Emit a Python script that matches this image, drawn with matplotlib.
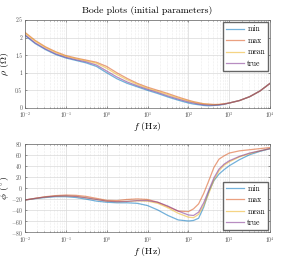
import numpy as np
import matplotlib
matplotlib.use("Agg")
import matplotlib.pyplot as plt

plt.rcParams['font.family'] = 'serif'
plt.rcParams['font.serif'] = ['cmr10', 'DejaVu Serif']
plt.rcParams['mathtext.fontset'] = 'cm'
plt.rcParams['axes.formatter.use_mathtext'] = True

# log10 of frequency (Hz)
log_f = [-2, -1.75, -1.5, -1.25, -1, -0.75, -0.5, -0.25, 0, 0.25, 0.5, 0.75, 1,
         1.25, 1.5, 1.75, 2, 2.125, 2.25, 2.375, 2.5, 2.625, 2.75, 2.875, 3,
         3.25, 3.5, 3.75, 4]

# resistivity magnitude (Ohm)
rho_min = [2.06, 1.83, 1.66, 1.52, 1.42, 1.35, 1.28, 1.18, 1.00, 0.83, 0.70, 0.60, 0.50,
           0.41, 0.31, 0.22, 0.14, 0.11, 0.09, 0.07, 0.06, 0.07, 0.08, 0.10, 0.14,
           0.21, 0.32, 0.48, 0.70]
rho_max = [2.15, 1.92, 1.74, 1.60, 1.49, 1.42, 1.36, 1.30, 1.18, 1.00, 0.84, 0.70, 0.59,
           0.50, 0.41, 0.31, 0.22, 0.18, 0.15, 0.12, 0.11, 0.10, 0.10, 0.12, 0.14,
           0.21, 0.32, 0.48, 0.70]
rho_mean = [2.13, 1.90, 1.72, 1.58, 1.47, 1.40, 1.34, 1.27, 1.13, 0.95, 0.80, 0.67, 0.56,
            0.47, 0.38, 0.28, 0.20, 0.16, 0.13, 0.11, 0.10, 0.09, 0.10, 0.11, 0.14,
            0.21, 0.32, 0.48, 0.70]
rho_true = [2.08, 1.85, 1.68, 1.54, 1.44, 1.37, 1.31, 1.22, 1.05, 0.88, 0.74, 0.63, 0.53,
            0.44, 0.34, 0.25, 0.17, 0.14, 0.11, 0.09, 0.08, 0.08, 0.09, 0.11, 0.14,
            0.21, 0.32, 0.48, 0.70]

# phase (degrees)
phi_min = [-22, -19.5, -17.5, -16, -16, -17.5, -20.5, -24, -26, -27, -27, -28, -32,
           -40, -50, -58, -60, -59, -55, -35, -7, 13, 25, 33, 40,
           51, 60, 66, 71]
phi_max = [-22, -19, -16, -14, -13, -13.5, -15.5, -19, -22.5, -23, -21, -20, -21,
           -26, -34, -42, -43, -38, -29, -10, 13, 37, 52, 58, 63,
           67, 69, 71, 73]
phi_mean = [-22, -19, -16.5, -15, -14.5, -15.5, -18, -21, -24, -25, -24.5, -23.5, -24,
            -28, -36, -46, -53, -54, -48, -32, -10, 14, 31, 41, 47,
            56, 62, 67, 71]
phi_true = [-22, -19, -16.5, -15, -14.5, -15.5, -18, -21, -24, -25, -24.5, -23, -23,
            -26, -33, -42, -49, -50, -44, -27, -4, 18, 34, 43, 49,
            57, 63, 67, 71]

labels = ["min", "max", "mean", "true"]
colors = ["#0072BD", "#D95319", "#EDB120", "#7E2F8E"]

f = 10.0 ** np.array(log_f)

fig = plt.figure(figsize=(2.84, 2.57), dpi=100)
ax1 = fig.add_axes([0.088, 0.580, 0.863, 0.342])
ax2 = fig.add_axes([0.088, 0.097, 0.863, 0.344])

legend_kw = dict(fontsize=5.5, fancybox=False, edgecolor='0.4', framealpha=1,
                 handlelength=2.4, borderpad=0.35, labelspacing=0.4,
                 handletextpad=0.4, borderaxespad=0.3)

for ax, series in [(ax1, [rho_min, rho_max, rho_mean, rho_true]),
                   (ax2, [phi_min, phi_max, phi_mean, phi_true])]:
    for vals, lab, c in zip(series, labels, colors):
        ax.plot(f, vals, color=c, alpha=0.55, lw=0.9, label=lab)
    ax.set_xscale('log')
    ax.set_xlim(1e-2, 1e4)
    ax.grid(True, which='major', color='0.85', lw=0.5)
    ax.grid(True, which='minor', color='0.85', lw=0.4, ls=':')
    ax.tick_params(which='both', direction='in', top=True, right=True,
                   labelsize=4, length=1.5, width=0.4, colors='0.3', pad=2)
    ax.tick_params(which='minor', length=1)
    for s in ax.spines.values():
        s.set_color('0.4')
        s.set_linewidth(0.5)
    ax.set_xlabel(r'$f$ (Hz)', fontsize=7, labelpad=0)

ax1.set_ylim(0, 2.5)
ax1.set_yticks([0, 0.5, 1, 1.5, 2, 2.5])
ax1.set_yticklabels(['0', '0.5', '1', '1.5', '2', '2.5'])
ax1.set_ylabel(r'$\rho$ ($\Omega$)', fontsize=7)
ax1.yaxis.set_label_coords(-0.058, 0.5)
ax1.set_title('Bode plots (initial parameters)', fontsize=7, pad=5)
ax1.legend(loc='upper right', **legend_kw)

ax2.set_ylim(-80, 80)
ax2.set_yticks(np.arange(-80, 81, 20))
ax2.set_ylabel(r'$\phi$ ($^\circ$)', fontsize=7)
ax2.yaxis.set_label_coords(-0.058, 0.5)
ax2.legend(loc='lower right', **legend_kw)

fig.savefig("out.png", dpi=100)
